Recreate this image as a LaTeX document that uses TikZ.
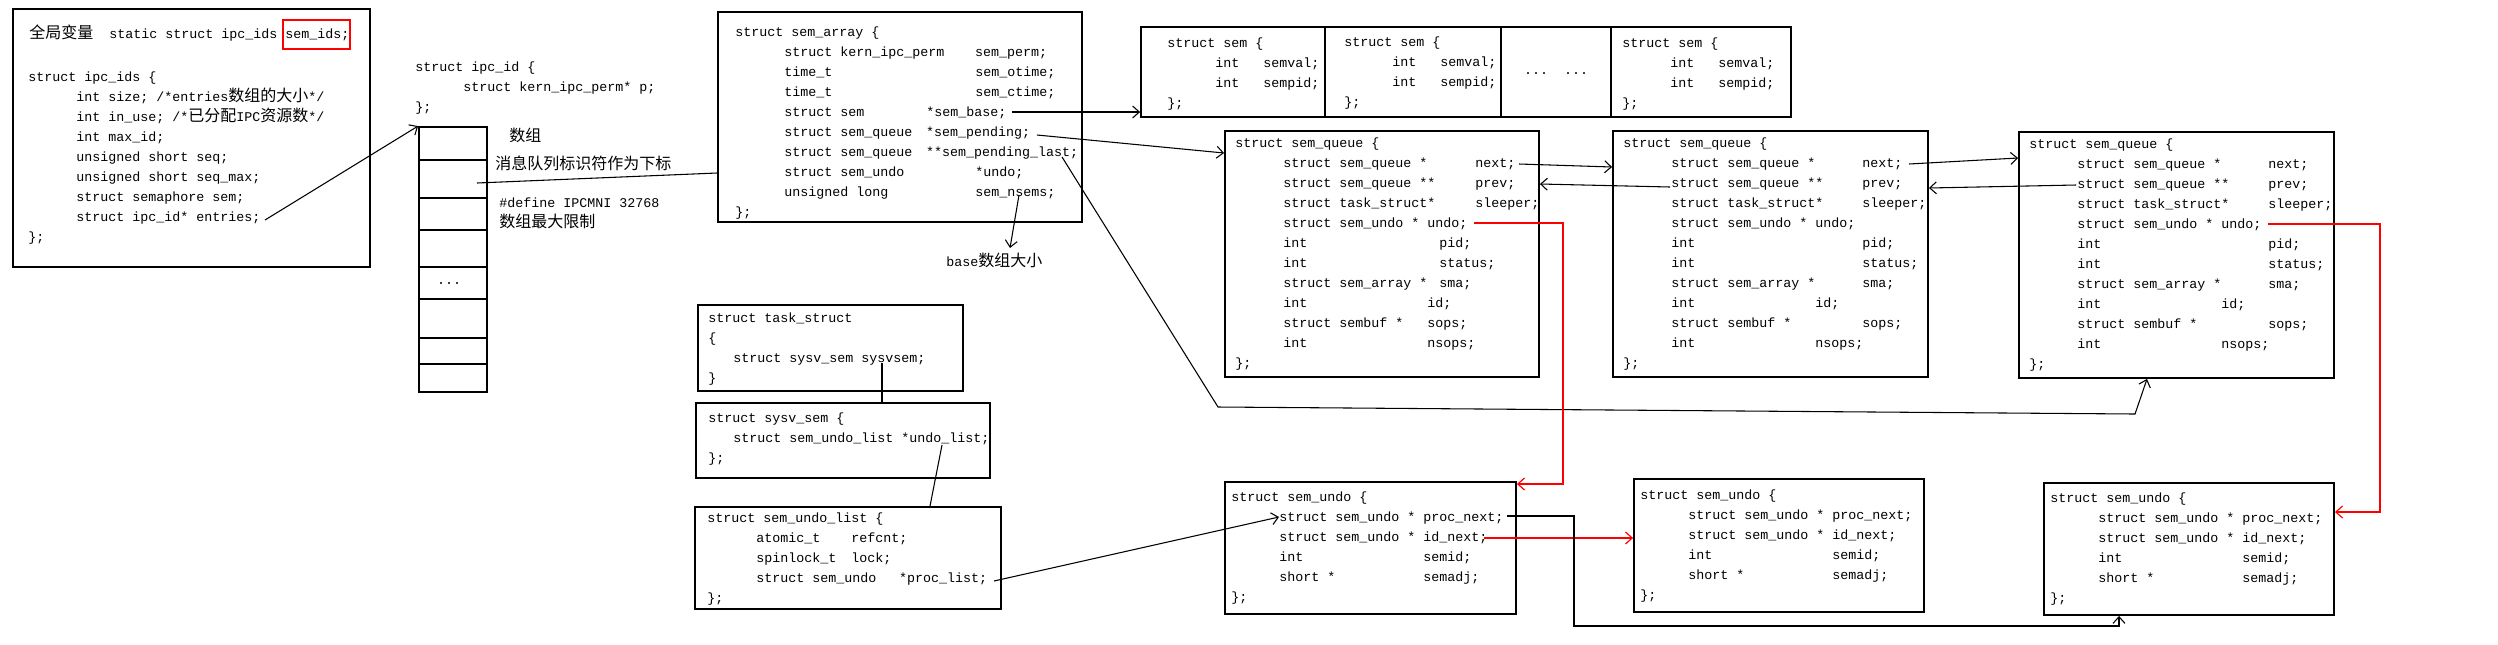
\documentclass[tikz,border=0pt]{standalone}
\usepackage{fontspec}
\setmainfont{Liberation Mono}
\newfontfamily\cjkf{Noto Sans CJK SC}
\newcommand\zh[1]{{\cjkf\fontsize{12pt}{12pt}\selectfont #1}}
\usetikzlibrary{arrows.meta,fit}
\newlength\px \setlength\px{0.75pt}
\newcounter{tln}
\newcommand\txtl[3]{\stepcounter{tln}\node[txt] (t\arabic{tln}) at (#1,#2) {#3};}
\newcommand\txtc[5]{\stepcounter{tln}\node[txt] (t\arabic{tln}) at (#1,#2) {\makebox[\dimexpr#4\px-#1\px\relax][l]{#3}#5};}
\newcommand\squeue[8]{%
 \txtl{#1}{#3}{struct sem\_queue \{}
 \txtc{#2}{#3+20}{struct sem\_queue *}{#4}{next;}
 \txtc{#2}{#3+40}{struct sem\_queue **}{#4}{prev;}
 \txtc{#2}{#3+60}{struct task\_struct*}{#4}{sleeper;}
 \txtl{#2}{#3+80}{struct sem\_undo * undo;}
 \txtc{#2}{#3+100}{int}{#5}{pid;}
 \txtc{#2}{#3+120}{int}{#5}{status;}
 \txtc{#2}{#3+140}{struct sem\_array *}{#5}{sma;}
 \txtc{#2}{#3+160}{int}{#6}{id;}
 \txtc{#2}{#3+180}{struct sembuf *}{#7}{sops;}
 \txtc{#2}{#3+200}{int}{#8}{nsops;}
 \txtl{#1}{#3+220}{\};}}
\newcommand\sundo[4]{%
 \txtl{#1}{#3}{struct sem\_undo \{}
 \txtl{#2}{#3+20}{struct sem\_undo * proc\_next;}
 \txtl{#2}{#3+40}{struct sem\_undo * id\_next;}
 \txtc{#2}{#3+60}{int}{#4}{semid;}
 \txtc{#2}{#3+80}{short *}{#4}{semadj;}
 \txtl{#1}{#3+100}{\};}}
\newcommand\semcell[4]{%
 \txtl{#1}{#3}{struct sem \{}
 \txtc{#2}{#3+20}{int}{#4}{semval;}
 \txtc{#2}{#3+40}{int}{#4}{sempid;}
 \txtl{#1}{#3+60}{\};}}
\begin{document}
\begin{tikzpicture}[x=0.75pt,y=-0.75pt,
  txt/.style={inner sep=0pt, anchor=west, text height=8pt, text depth=2pt, font=\fontsize{10pt}{12pt}\selectfont},
  box/.style={draw, line width=1.4pt, inner sep=0pt},
  redbox/.style={draw=red, line width=0.9pt, inner sep=0pt},
  conn/.style={line width=0.8pt},
  rconn/.style={draw=red, line width=0.9pt},
  tip/.style={-{Straight Barb[length=5pt,width=9pt]}}]
\fill[white] (0,0) rectangle (2498,644);
\useasboundingbox (0,0) rectangle (2498,644);

% ---- ipc_ids box
\node[box, fit={(13,9) (370,267)}] (ipcids) {};
\node[redbox, fit={(283,20) (350,49)}] (semidsbox) {};
\txtl{29}{34}{\zh{全局变量}}
\txtl{109}{34}{static struct ipc\_ids sem\_ids;}
\txtl{28}{77}{struct ipc\_ids \{}
\txtl{76}{97}{int size; /*entries\zh{数组的大小}*/}
\txtl{76}{117}{int in\_use; /*\zh{已分配}IPC\zh{资源数}*/}
\txtl{76}{137}{int max\_id;}
\txtl{76}{157}{unsigned short seq;}
\txtl{76}{177}{unsigned short seq\_max;}
\txtl{76}{197}{struct semaphore sem;}
\txtl{76}{217}{struct ipc\_id* entries;}
\txtl{28}{237}{\};}

% ---- ipc_id
\txtl{415}{67}{struct ipc\_id \{}
\txtl{463}{87}{struct kern\_ipc\_perm* p;}
\txtl{415}{107}{\};}

% ---- array
\node[box, fit={(419,127) (487,392)}] (arr) {};
\foreach \yy in {160,198,230,267,299,338,364}
  \draw[line width=1.4pt] (419,\yy) -- (487,\yy);
\node[txt, anchor=center] (arrdots) at (449,280) {...};
\txtl{509}{137}{\zh{数组}}
\txtl{495}{165}{\zh{消息队列标识符作为下标}}
\txtl{499}{203}{\#define IPCMNI 32768}
\txtl{499}{223}{\zh{数组最大限制}}

% ---- sem_array
\node[box, fit={(718,12) (1082,222)}] (sa) {};
\txtl{735}{32}{struct sem\_array \{}
\txtc{784}{52}{struct kern\_ipc\_perm}{975}{sem\_perm;}
\txtc{784}{72}{time\_t}{975}{sem\_otime;}
\txtc{784}{92}{time\_t}{975}{sem\_ctime;}
\txtc{784}{112}{struct sem}{926}{*sem\_base;}
\txtc{784}{132}{struct sem\_queue}{926}{*sem\_pending;}
\txtc{784}{152}{struct sem\_queue}{926}{**sem\_pending\_last;}
\txtc{784}{172}{struct sem\_undo}{975}{*undo;}
\txtc{784}{192}{unsigned long}{975}{sem\_nsems;}
\txtl{735}{212}{\};}
\txtl{946}{262}{base\zh{数组大小}}
\node[inner sep=0pt] (lblbase) at (994,262) {};

% ---- sem row
\node[box, fit={(1141,27) (1325,117)}] (s1) {};
\node[box, fit={(1325,27) (1501,117)}] (s2) {};
\node[box, fit={(1501,27) (1611,117)}] (s3) {};
\node[box, fit={(1611,27) (1791,117)}] (s4) {};
\semcell{1167}{1215}{43}{1263}
\semcell{1344}{1392}{42}{1440}
\node[txt, anchor=center] (semdots) at (1556,70) {...\ \ ...};
\semcell{1622}{1670}{43}{1718}

% ---- sem_queue boxes
\node[box, fit={(1225,131) (1539,377)}] (q1) {};
\node[box, fit={(1613,131) (1928,377)}] (q2) {};
\node[box, fit={(2019,132) (2334,378)}] (q3) {};
\squeue{1235}{1283}{143}{1475}{1439}{1427}{1427}{1427}
\squeue{1623}{1671}{143}{1862}{1862}{1815}{1862}{1815}
\squeue{2029}{2077}{144}{2268}{2268}{2221}{2268}{2221}

% ---- task_struct / sysv_sem / sem_undo_list
\node[box, fit={(698,305) (963,391)}] (ts) {};
\txtl{708}{318}{struct task\_struct}
\txtl{708}{338}{\{}
\txtl{733}{358}{struct sysv\_sem sysvsem;}
\txtl{708}{378}{\}}
\node[box, fit={(696,403) (990,478)}] (sv) {};
\txtl{708}{418}{struct sysv\_sem \{}
\txtl{733}{438}{struct sem\_undo\_list *undo\_list;}
\txtl{708}{458}{\};}
\node[box, fit={(695,507) (1001,609)}] (ul) {};
\txtl{707}{518}{struct sem\_undo\_list \{}
\txtc{756}{538}{atomic\_t}{851}{refcnt;}
\txtc{756}{558}{spinlock\_t}{851}{lock;}
\txtc{756}{578}{struct sem\_undo}{899}{*proc\_list;}
\txtl{707}{598}{\};}

% ---- sem_undo boxes
\node[box, fit={(1225,482) (1516,614)}] (u1) {};
\node[box, fit={(1634,479) (1924,612)}] (u2) {};
\node[box, fit={(2044,483) (2334,615)}] (u3) {};
\sundo{1231}{1279}{497}{1423}
\sundo{1640}{1688}{495}{1832}
\sundo{2050}{2098}{498}{2242}

% ---- connector points
\coordinate (cEnt) at (265,220);
\coordinate (cIdx) at (477,183);
\coordinate (cSAi) at (0,173);
\coordinate (cSB) at (1012,112);
\coordinate (cSP) at (1037,135);
\coordinate (cSPt) at (0,153);
\coordinate (cSPL) at (1062,157);
\coordinate (cB1) at (1218,407);
\coordinate (cB2) at (2135,414);
\coordinate (cB3) at (2147,0);
\coordinate (cNs) at (1019,195);
\coordinate (cNsT) at (1010,248);
\coordinate (cN1) at (1519,164);
\coordinate (cN1t) at (0,167);
\coordinate (cP2) at (1670,187);
\coordinate (cP2t) at (0,184);
\coordinate (cN2) at (1909,164);
\coordinate (cN2t) at (0,158);
\coordinate (cP3) at (2076,185);
\coordinate (cP3t) at (0,188);
\coordinate (cU1) at (1474,223);
\coordinate (cU1c) at (1563,484);
\coordinate (cU3) at (2268,224);
\coordinate (cU3c) at (2380,512);
\coordinate (cID) at (1484,538);
\coordinate (cPN) at (1507,516);
\coordinate (cPNc) at (1574,626);
\coordinate (cPNd) at (2119,626);
\coordinate (cSys) at (882,363);
\coordinate (cUL) at (942,445);
\coordinate (cUL2) at (930,0);
\coordinate (cPL) at (994,581);
\coordinate (cPN1) at (1279,517);

% ---- connectors
\draw[conn,tip] (cEnt) -- (arr.north west);
\draw[conn] (cIdx) -- (sa.west |- cSAi);
\draw[conn,tip] (cSB) -- (cSB -| s1.west);
\draw[conn,tip] (cSP) -- (q1.west |- cSPt);
\draw[conn,tip] (cSPL) -- (cB1) -- (cB2) -- (q3.south -| cB3);
\draw[conn,tip] (cNs) -- (cNsT);
\draw[conn,tip] (cN1) -- (q2.west |- cN1t);
\draw[conn,tip] (cP2) -- (q1.east |- cP2t);
\draw[conn,tip] (cN2) -- (q3.west |- cN2t);
\draw[conn,tip] (cP3) -- (q2.east |- cP3t);
\draw[rconn,tip] (cU1) -| (cU1c) -- (cU1c -| u1.east);
\draw[rconn,tip] (cU3) -| (cU3c) -- (cU3c -| u3.east);
\draw[rconn,tip] (cID) -- (cID -| u2.west);
\draw[conn,tip] (cPN) -| (cPNc) -- (cPNd) -- (cPNd |- u3.south);
\draw[conn] (cSys) -- (cSys |- sv.north);
\draw[conn] (cUL) -- (ul.north -| cUL2);
\draw[conn,tip] (cPL) -- (cPN1);
\end{tikzpicture}
\end{document}
